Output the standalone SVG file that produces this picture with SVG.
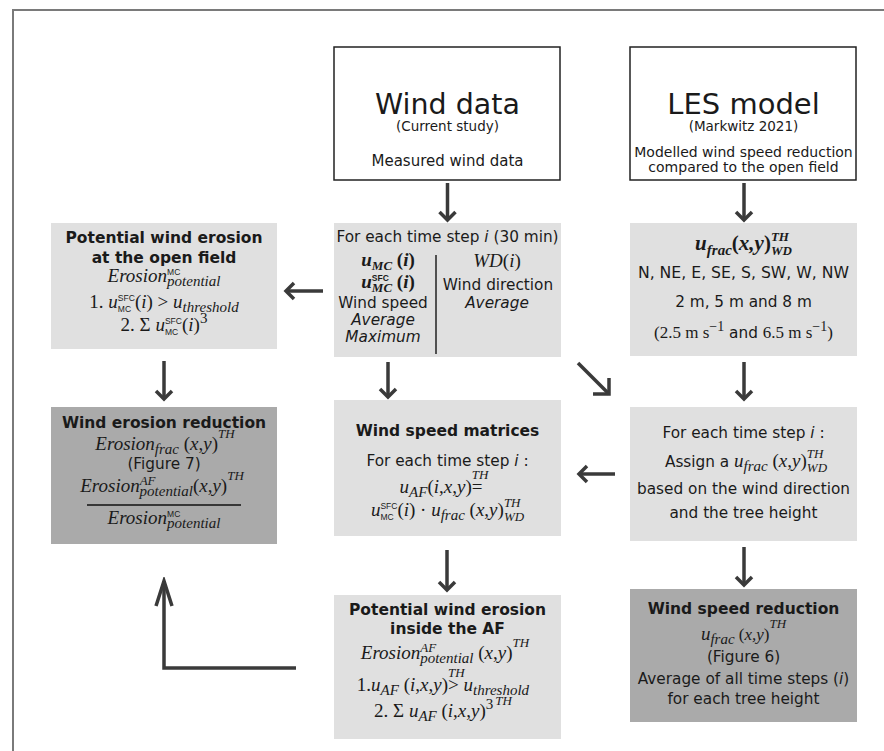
<svg xmlns="http://www.w3.org/2000/svg" width="884" height="751" viewBox="0 0 884 751">
<style>
.t{font-family:"DejaVu Sans","Liberation Sans",sans-serif;font-size:15.3px;fill:#1a1a1a;text-anchor:middle}
.tb{font-weight:bold;font-size:15.5px}
.it{font-style:italic}
.m{font-family:"Liberation Serif",serif;font-style:italic;font-size:19px;fill:#1a1a1a;text-anchor:middle}
.mb{font-weight:bold}
.up{font-style:normal}
.s{font-size:13px}
.sl{font-size:15px}
.sc{font-family:"Liberation Sans",sans-serif;font-style:normal;font-size:8.5px}
.r{font-family:"Liberation Serif",serif;font-size:17px}
.rs{font-size:14px}
.w{fill:#fff;stroke:#222;stroke-width:1.5}
.g1{fill:#e0e0e0}
.g2{fill:#aaaaaa}
.ar{fill:none;stroke:#3a3a3a;stroke-width:3.5}
</style>
<defs>
<marker id="ah" viewBox="-12 -12 16 24" markerWidth="16" markerHeight="24" refX="0" refY="0" orient="auto" markerUnits="userSpaceOnUse"><path d="M-8,-8 L0,0 L-8,8" fill="none" stroke="#3a3a3a" stroke-width="3.5"/></marker>
<marker id="ah2" viewBox="-15 -15 19 30" markerWidth="19" markerHeight="30" refX="0" refY="0" orient="auto" markerUnits="userSpaceOnUse"><path d="M-11.3,-11.3 L0,0 L-11.3,11.3" fill="none" stroke="#3a3a3a" stroke-width="3.5"/></marker>
<marker id="ah3" viewBox="-28 -12 32 24" markerWidth="32" markerHeight="24" refX="0" refY="0" orient="auto" markerUnits="userSpaceOnUse"><path d="M-25,-8 L0,0 L-25,8" fill="none" stroke="#3a3a3a" stroke-width="3.5"/></marker>
</defs>
<rect width="884" height="751" fill="#fff"/>
<path d="M13,751 L13,10 L884,10" fill="none" stroke="#7a7a7a" stroke-width="2"/>

<g id="wind-data">
<rect class="w" x="334" y="47" width="226" height="133"/>
<text class="t" x="447.5" y="114" style="font-size:28.5px">Wind data</text>
<text class="t" x="447.5" y="131" style="font-size:13.5px">(Current study)</text>
<text class="t" x="447.5" y="166" style="font-size:15px">Measured wind data</text>
</g>

<g id="les-model">
<rect class="w" x="630" y="47" width="226" height="133"/>
<text class="t" x="743.5" y="114" style="font-size:29px">LES model</text>
<text class="t" x="743.5" y="131" style="font-size:13.5px">(Markwitz 2021)</text>
<text class="t" x="743.5" y="157" style="font-size:14px">Modelled wind speed reduction</text>
<text class="t" x="743.5" y="172" style="font-size:14px">compared to the open field</text>
</g>

<g id="time-step">
<rect class="g1" x="334" y="223" width="227" height="134"/>
<text class="t" x="447.5" y="242">For each time step <tspan class="it">i</tspan> (30 min)</text>
<text class="m mb" x="388" y="266">u<tspan class="s" dy="4">MC</tspan><tspan class="up" dy="-4"> (</tspan>i<tspan class="up">)</tspan></text>
<text class="m mb" x="388" y="288">u<tspan class="sc" dy="-7">SFC</tspan><tspan class="s" dx="-17" dy="11">MC</tspan><tspan class="up" dy="-4"> (</tspan>i<tspan class="up">)</tspan></text>
<text class="t" x="383" y="308">Wind speed</text>
<text class="t it" x="383" y="325">Average</text>
<text class="t it" x="383" y="342">Maximum</text>
<line x1="436" y1="255" x2="436" y2="354" stroke="#222" stroke-width="1.5"/>
<text class="m" x="497" y="267">WD<tspan class="up">(</tspan>i<tspan class="up">)</tspan></text>
<text class="t" x="498" y="290">Wind direction</text>
<text class="t it" x="497" y="308">Average</text>
</g>

<g id="open-field">
<rect class="g1" x="51" y="223" width="226" height="126"/>
<text class="t tb" x="164" y="243">Potential wind erosion</text>
<text class="t tb" x="164" y="263">at the open field</text>
<text class="m" x="164" y="282">Erosion<tspan class="sc" dy="-7">MC</tspan><tspan class="sl" dx="-13.2" dy="11">potential</tspan></text>
<text class="m" x="164" y="308"><tspan class="up">1. </tspan>u<tspan class="sc" dy="-7">SFC</tspan><tspan class="sc" dx="-17" dy="11">MC</tspan><tspan class="up" dx="3.8" dy="-4">(</tspan>i<tspan class="up">) &gt; </tspan>u<tspan class="sl" dy="4">threshold</tspan></text>
<text class="m" x="164" y="331"><tspan class="up">2. Σ </tspan>u<tspan class="sc" dy="-7">SFC</tspan><tspan class="sc" dx="-17" dy="11">MC</tspan><tspan class="up" dx="3.8" dy="-4">(</tspan>i<tspan class="up">)</tspan><tspan class="up sl" dy="-8">3</tspan></text>
</g>

<g id="les-params">
<rect class="g1" x="630" y="223" width="227" height="133"/>
<text class="m mb" x="743.5" y="250" style="font-size:21px">u<tspan class="sl" dy="5">frac</tspan><tspan class="up" dy="-5">(</tspan>x,y<tspan class="up">)</tspan><tspan class="s" dy="-9">TH</tspan><tspan class="s" dx="-18" dy="14">WD</tspan></text>
<text class="t" x="743.5" y="278" style="font-size:15.7px">N, NE, E, SE, S, SW, W, NW</text>
<text class="t" x="743.5" y="307">2 m, 5 m and 8 m</text>
<text class="t" x="743.5" y="338"><tspan class="r">(2.5 m s</tspan><tspan class="r rs" dy="-7">−1</tspan><tspan dy="7"> and </tspan><tspan class="r">6.5 m s</tspan><tspan class="r rs" dy="-7">−1</tspan><tspan class="r" dy="7">)</tspan></text>
</g>

<g id="erosion-reduction">
<rect class="g2" x="51" y="407" width="226" height="137"/>
<text class="t tb" x="164" y="428">Wind erosion reduction</text>
<text class="m" x="165" y="450">Erosion<tspan class="sl" dy="4">frac</tspan><tspan class="up" dy="-4"> (</tspan>x<tspan class="up">,</tspan>y<tspan class="up">)</tspan><tspan class="s" dy="-12">TH</tspan></text>
<text class="t" x="164" y="469">(Figure 7)</text>
<text class="m" x="162" y="492">Erosion<tspan class="s" dy="-7">AF</tspan><tspan class="sl" dx="-16" dy="11">potential</tspan><tspan class="up" dy="-4">(</tspan>x<tspan class="up">,</tspan>y<tspan class="up">)</tspan><tspan class="s" dy="-12">TH</tspan></text>
<line x1="87" y1="505" x2="241" y2="505" stroke="#111" stroke-width="1.5"/>
<text class="m" x="164" y="524">Erosion<tspan class="sc" dy="-7">MC</tspan><tspan class="sl" dx="-13.2" dy="11">potential</tspan></text>
</g>

<g id="wind-speed-matrices">
<rect class="g1" x="334" y="400" width="227" height="136"/>
<text class="t tb" x="447.5" y="436">Wind speed matrices</text>
<text class="t" x="447.5" y="466">For each time step <tspan class="it">i</tspan> :</text>
<text class="m" x="444" y="493">u<tspan class="sl" dy="4">AF</tspan><tspan class="up" dy="-4">(</tspan>i<tspan class="up">,</tspan>x<tspan class="up">,</tspan>y<tspan class="up">)</tspan><tspan class="s" dy="-14">TH</tspan><tspan class="up" dx="-16.6" dy="14">=</tspan></text>
<text class="m" x="447.5" y="516">u<tspan class="sc" dy="-7">SFC</tspan><tspan class="sc" dx="-17" dy="11">MC</tspan><tspan class="up" dx="3.8" dy="-4">(</tspan>i<tspan class="up">) · </tspan>u<tspan class="sl" dy="4">frac</tspan><tspan class="up" dy="-4"> (</tspan>x<tspan class="up">,</tspan>y<tspan class="up">)</tspan><tspan class="s" dy="-9">TH</tspan><tspan class="s" dx="-16.6" dy="14">WD</tspan></text>
</g>

<g id="assign">
<rect class="g1" x="630" y="407" width="227" height="134"/>
<text class="t" x="743.5" y="438">For each time step <tspan class="it">i</tspan> :</text>
<text class="t" x="746" y="467">Assign a <tspan class="m">u<tspan class="sl" dy="4">frac</tspan><tspan class="up" dy="-4"> (</tspan>x<tspan class="up">,</tspan>y<tspan class="up">)</tspan><tspan class="s" dy="-9">TH</tspan><tspan class="s" dx="-16.6" dy="14">WD</tspan></tspan></text>
<text class="t" x="743.5" y="494">based on the wind direction</text>
<text class="t" x="743.5" y="518">and the tree height</text>
</g>

<g id="af-erosion">
<rect class="g1" x="334" y="595" width="227" height="144"/>
<text class="t tb" x="447.5" y="615">Potential wind erosion</text>
<text class="t tb" x="447.5" y="634">inside the AF</text>
<text class="m" x="445" y="659">Erosion<tspan class="s" dy="-7">AF</tspan><tspan class="sl" dx="-16" dy="11">potential</tspan><tspan class="up" dy="-4"> (</tspan>x<tspan class="up">,</tspan>y<tspan class="up">)</tspan><tspan class="s" dy="-12">TH</tspan></text>
<text class="m" x="443" y="691"><tspan class="up">1.</tspan>u<tspan class="sl" dy="4">AF</tspan><tspan class="up" dy="-4"> (</tspan>i<tspan class="up">,</tspan>x<tspan class="up">,</tspan>y<tspan class="up">)</tspan><tspan class="s" dy="-14">TH</tspan><tspan class="up" dx="-16.6" dy="14">&gt; </tspan>u<tspan class="sl" dy="4">threshold</tspan></text>
<text class="m" x="443" y="717"><tspan class="up">2. Σ </tspan>u<tspan class="sl" dy="4">AF</tspan><tspan class="up" dy="-4"> (</tspan>i<tspan class="up">,</tspan>x<tspan class="up">,</tspan>y<tspan class="up">)</tspan><tspan class="up sl" dy="-8">3</tspan><tspan class="s" dx="2" dy="-4">TH</tspan></text>
</g>

<g id="wind-speed-reduction">
<rect class="g2" x="630" y="589" width="227" height="133"/>
<text class="t tb" x="743.5" y="614">Wind speed reduction</text>
<text class="m" x="743.5" y="640">u<tspan class="sl" dy="4">frac</tspan><tspan class="up" dy="-4" style="font-size:17px"> (</tspan><tspan style="font-size:17px">x,y</tspan><tspan class="up" style="font-size:17px">)</tspan><tspan class="s" dy="-12">TH</tspan></text>
<text class="t" x="743.5" y="662">(Figure 6)</text>
<text class="t" x="743.5" y="684">Average of all time steps (<tspan class="it">i</tspan>)</text>
<text class="t" x="743.5" y="704">for each tree height</text>
</g>

<g id="connectors">
<path class="ar" d="M447.5,183 V220" marker-end="url(#ah)"/>
<path class="ar" d="M744,183 V220" marker-end="url(#ah)"/>
<path class="ar" d="M323,291 H286" marker-end="url(#ah)"/>
<path class="ar" d="M164,361 V399" marker-end="url(#ah)"/>
<path class="ar" d="M388,362 V397" marker-end="url(#ah)"/>
<path class="ar" d="M578,363 L609,394" marker-end="url(#ah2)"/>
<path class="ar" d="M744,362 V399" marker-end="url(#ah)"/>
<path class="ar" d="M615,474 H579" marker-end="url(#ah)"/>
<path class="ar" d="M447,550 V590" marker-end="url(#ah)"/>
<path class="ar" d="M744,547 V585" marker-end="url(#ah)"/>
<path class="ar" d="M296,668 H164 V581" marker-end="url(#ah3)"/>
</g>
</svg>
